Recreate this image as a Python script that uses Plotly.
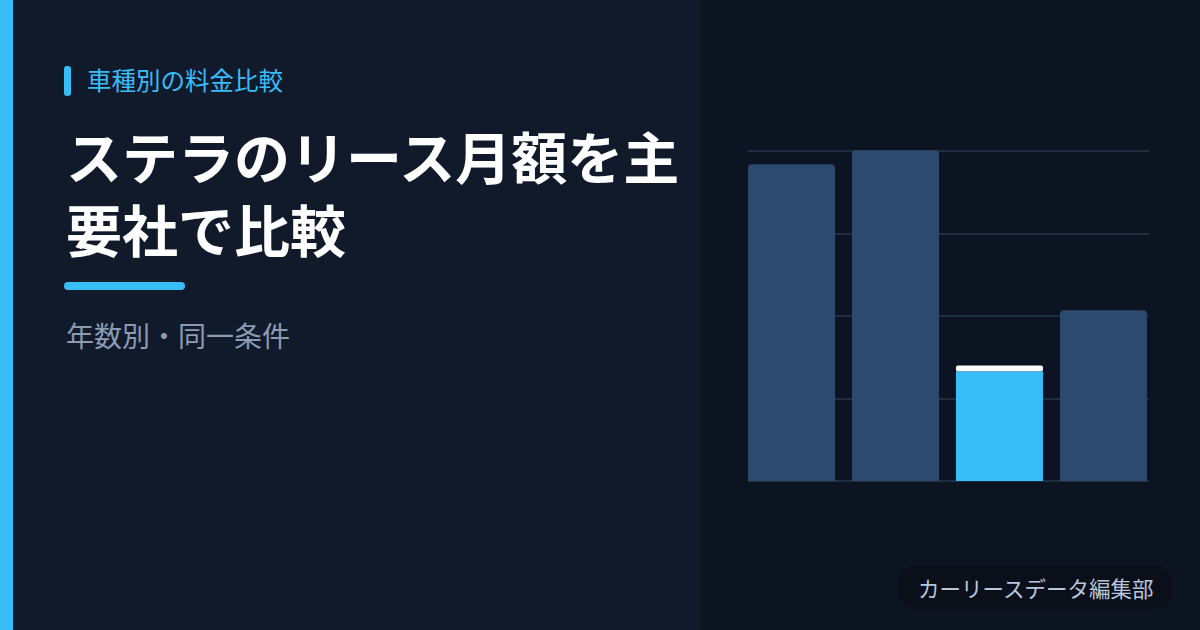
import plotly.graph_objects as go

# data
companies = ["A社", "B社", "C社", "D社"]
monthly_fee = [38400, 40100, 13300, 20700]
highlight = "C社"
cap_height = [0, 0, 700, 0]

kicker = "車種別の料金比較"
title_lines = ["ステラのリース月額を主", "要社で比較"]
subtitle = "年数別・同一条件"
footer = "カーリースデータ編集部"

FONT = "Noto Sans CJK JP"
ACCENT = "#38bdf8"
BAR = "#2c4a6d"
LEFT_BG = "#111a2b"
RIGHT_BG = "#0d1421"
GRID = "#1f2d42"

W, H = 1200, 630
px_x = lambda v: v / W
px_y = lambda v: 1 - v / H

x_pos = list(range(len(companies)))
colors = [ACCENT if c == highlight else BAR for c in companies]

fig = go.Figure()
fig.add_trace(go.Bar(
    x=x_pos, y=monthly_fee,
    width=0.837,
    marker=dict(color=colors, line=dict(width=0), cornerradius=4),
    hoverinfo="skip",
))
# white cap on the highlighted bar
fig.add_trace(go.Bar(
    x=x_pos, y=cap_height, base=monthly_fee,
    width=0.837,
    marker=dict(color="white", line=dict(width=0), cornerradius=3),
    hoverinfo="skip",
))


def rrect(x0, y0, x1, y1, r):
    # rounded rectangle in paper coords, given pixel values
    return (f"M {px_x(x0 + r)},{px_y(y0)} L {px_x(x1 - r)},{px_y(y0)} "
            f"Q {px_x(x1)},{px_y(y0)} {px_x(x1)},{px_y(y0 + r)} "
            f"L {px_x(x1)},{px_y(y1 - r)} Q {px_x(x1)},{px_y(y1)} {px_x(x1 - r)},{px_y(y1)} "
            f"L {px_x(x0 + r)},{px_y(y1)} Q {px_x(x0)},{px_y(y1)} {px_x(x0)},{px_y(y1 - r)} "
            f"L {px_x(x0)},{px_y(y0 + r)} Q {px_x(x0)},{px_y(y0)} {px_x(x0 + r)},{px_y(y0)} Z")


shapes = [
    # panels
    dict(type="rect", xref="paper", yref="paper", x0=0, x1=px_x(700), y0=0, y1=1,
         fillcolor=LEFT_BG, line_width=0, layer="below"),
    dict(type="rect", xref="paper", yref="paper", x0=px_x(700), x1=1, y0=0, y1=1,
         fillcolor=RIGHT_BG, line_width=0, layer="below"),
    # left accent strip
    dict(type="rect", xref="paper", yref="paper", x0=0, x1=px_x(13), y0=0, y1=1,
         fillcolor=ACCENT, line_width=0),
    # kicker tick
    dict(type="path", xref="paper", yref="paper", path=rrect(64, 66, 71, 96, 3),
         fillcolor=ACCENT, line_width=0),
    # underline
    dict(type="path", xref="paper", yref="paper", path=rrect(64, 282, 185, 290, 4),
         fillcolor=ACCENT, line_width=0),
    # footer pill
    dict(type="path", xref="paper", yref="paper", path=rrect(898, 566, 1173, 609, 20),
         fillcolor="#0a0f1a", line_width=0),
]

annotations = [
    dict(text=kicker, x=px_x(85), y=px_y(79), xanchor="left", yanchor="middle",
         font=dict(family=FONT, size=24.5, color=ACCENT)),
    dict(text="<b>" + "<br>".join(title_lines) + "</b>", x=px_x(64), y=px_y(191),
         xanchor="left", yanchor="middle", align="left",
         font=dict(family=FONT, size=56, color="white")),
    dict(text=subtitle, x=px_x(64), y=px_y(335), xanchor="left", yanchor="middle",
         font=dict(family=FONT, size=28, color="#8b9bb4")),
    dict(text=footer, x=px_x(1035), y=px_y(587), xanchor="center", yanchor="middle",
         font=dict(family=FONT, size=21.5, color="#b8c6da")),
]
for a in annotations:
    a.update(xref="paper", yref="paper", showarrow=False)

# plot area top at 140px so the 40000 gridline (151px) is not dropped at the edge
y_top = 40000 * (481 - 140) / 330

fig.update_layout(
    width=W, height=H,
    margin=dict(l=0, r=0, t=0, b=0),
    paper_bgcolor=RIGHT_BG,
    plot_bgcolor="rgba(0,0,0,0)",
    barmode="overlay",
    showlegend=False,
    shapes=shapes,
    annotations=annotations,
    xaxis=dict(domain=[px_x(748), px_x(1149)], range=[-0.4185, 3.438],
               showticklabels=False, showgrid=False, zeroline=False, fixedrange=True),
    yaxis=dict(domain=[px_y(481), px_y(140)], range=[0, y_top], dtick=10000,
               showticklabels=False, showgrid=True, gridcolor=GRID, gridwidth=2,
               zeroline=True, zerolinecolor=GRID, zerolinewidth=2, fixedrange=True),
)

fig.write_html("out.html", config={"displayModeBar": False},
               post_script="document.body.style.margin='0';")
